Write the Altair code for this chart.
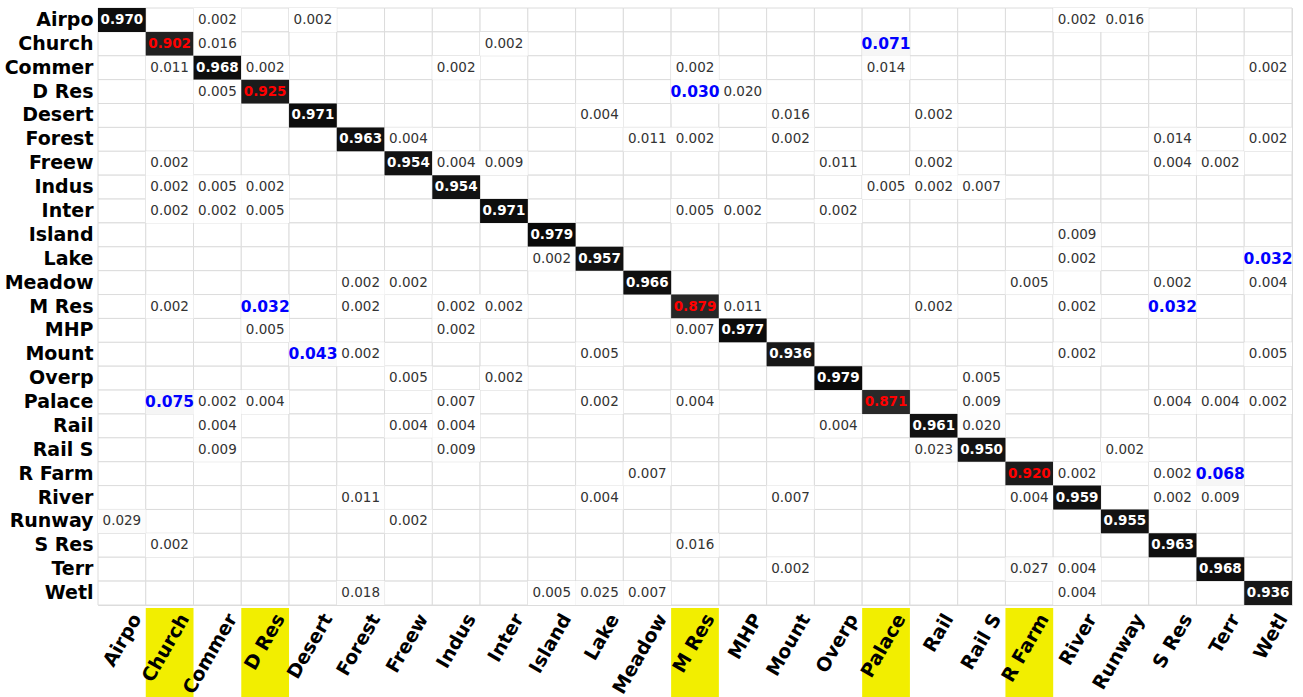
import altair as alt
import pandas as pd

categories = ["Airpo", "Church", "Commer", "D Res", "Desert", "Forest", "Freew",
              "Indus", "Inter", "Island", "Lake", "Meadow", "M Res", "MHP",
              "Mount", "Overp", "Palace", "Rail", "Rail S", "R Farm", "River",
              "Runway", "S Res", "Terr", "Wetl"]

highlighted = ["Church", "D Res", "M Res", "Palace", "R Farm"]

# confusion matrix rows (true class -> predicted class: share), zeros omitted
row_airpo = {"Airpo": 0.970, "Commer": 0.002, "Desert": 0.002, "River": 0.002, "Runway": 0.016}
row_church = {"Church": 0.902, "Commer": 0.016, "Inter": 0.002, "Palace": 0.071}
row_commer = {"Church": 0.011, "Commer": 0.968, "D Res": 0.002, "Indus": 0.002,
              "M Res": 0.002, "Palace": 0.014, "Wetl": 0.002}
row_dres = {"Commer": 0.005, "D Res": 0.925, "M Res": 0.030, "MHP": 0.020}
row_desert = {"Desert": 0.971, "Lake": 0.004, "Mount": 0.016, "Rail": 0.002}
row_forest = {"Forest": 0.963, "Freew": 0.004, "Meadow": 0.011, "M Res": 0.002,
              "Mount": 0.002, "S Res": 0.014, "Wetl": 0.002}
row_freew = {"Church": 0.002, "Freew": 0.954, "Indus": 0.004, "Inter": 0.009,
             "Overp": 0.011, "Rail": 0.002, "S Res": 0.004, "Terr": 0.002}
row_indus = {"Church": 0.002, "Commer": 0.005, "D Res": 0.002, "Indus": 0.954,
             "Palace": 0.005, "Rail": 0.002, "Rail S": 0.007}
row_inter = {"Church": 0.002, "Commer": 0.002, "D Res": 0.005, "Inter": 0.971,
             "M Res": 0.005, "MHP": 0.002, "Overp": 0.002}
row_island = {"Island": 0.979, "River": 0.009}
row_lake = {"Island": 0.002, "Lake": 0.957, "River": 0.002, "Wetl": 0.032}
row_meadow = {"Forest": 0.002, "Freew": 0.002, "Meadow": 0.966, "R Farm": 0.005,
              "S Res": 0.002, "Wetl": 0.004}
row_mres = {"Church": 0.002, "D Res": 0.032, "Forest": 0.002, "Indus": 0.002,
            "Inter": 0.002, "M Res": 0.879, "MHP": 0.011, "Rail": 0.002,
            "River": 0.002, "S Res": 0.032}
row_mhp = {"D Res": 0.005, "Indus": 0.002, "M Res": 0.007, "MHP": 0.977}
row_mount = {"Desert": 0.043, "Forest": 0.002, "Lake": 0.005, "Mount": 0.936,
             "River": 0.002, "Wetl": 0.005}
row_overp = {"Freew": 0.005, "Inter": 0.002, "Overp": 0.979, "Rail S": 0.005}
row_palace = {"Church": 0.075, "Commer": 0.002, "D Res": 0.004, "Indus": 0.007,
              "Lake": 0.002, "M Res": 0.004, "Palace": 0.871, "Rail S": 0.009,
              "S Res": 0.004, "Terr": 0.004, "Wetl": 0.002}
row_rail = {"Commer": 0.004, "Freew": 0.004, "Indus": 0.004, "Overp": 0.004,
            "Rail": 0.961, "Rail S": 0.020}
row_rails = {"Commer": 0.009, "Indus": 0.009, "Rail": 0.023, "Rail S": 0.950, "Runway": 0.002}
row_rfarm = {"Meadow": 0.007, "R Farm": 0.920, "River": 0.002, "S Res": 0.002, "Terr": 0.068}
row_river = {"Forest": 0.011, "Lake": 0.004, "Mount": 0.007, "R Farm": 0.004,
             "River": 0.959, "S Res": 0.002, "Terr": 0.009}
row_runway = {"Airpo": 0.029, "Freew": 0.002, "Runway": 0.955}
row_sres = {"Church": 0.002, "M Res": 0.016, "S Res": 0.963}
row_terr = {"Mount": 0.002, "R Farm": 0.027, "River": 0.004, "Terr": 0.968}
row_wetl = {"Forest": 0.018, "Island": 0.005, "Lake": 0.025, "Meadow": 0.007,
            "River": 0.004, "Wetl": 0.936}

rows = [row_airpo, row_church, row_commer, row_dres, row_desert, row_forest,
        row_freew, row_indus, row_inter, row_island, row_lake, row_meadow,
        row_mres, row_mhp, row_mount, row_overp, row_palace, row_rail,
        row_rails, row_rfarm, row_river, row_runway, row_sres, row_terr, row_wetl]

records = []
for true_cat, row in zip(categories, rows):
    for pred_cat, v in row.items():
        diag = true_cat == pred_cat
        if diag:
            kind = "diag_ok" if v >= 0.93 else "diag_low"
        else:
            kind = "off_high" if v >= 0.03 else "off"
        records.append({"true": true_cat, "pred": pred_cat, "value": v,
                        "label": f"{v:.3f}", "kind": kind})
cells = pd.DataFrame(records)
grid = pd.DataFrame([{"true": t, "pred": p} for t in categories for p in categories])
hl = pd.DataFrame({"pred": highlighted})

FONT = "DejaVu Sans"
xs = alt.Scale(domain=categories, paddingInner=0, paddingOuter=0)
ys = alt.Scale(domain=categories, paddingInner=0, paddingOuter=0)

x_axis = alt.Axis(title=None, labelAngle=300, labelAlign="right", labelBaseline="middle",
                  labelFont=FONT, labelFontWeight="bold", labelFontSize=19,
                  labelColor="black", ticks=False, domain=False, grid=False,
                  labelPadding=10, labelOffset=15, zindex=1, labelOverlap=False)
y_axis = alt.Axis(title=None, labelFont=FONT, labelFontWeight="bold", labelFontSize=19,
                  labelColor="black", ticks=False, domain=False, grid=False,
                  labelPadding=5, labelOverlap=False)

X = alt.X("pred:N", scale=xs, axis=x_axis, sort=categories)
Y = alt.Y("true:N", scale=ys, axis=y_axis, sort=categories)

base_grid = alt.Chart(grid).mark_rect(fill="white", stroke="#dcdcdc", strokeWidth=1).encode(
    x=X, y=Y,
)

filled = alt.Chart(cells).mark_rect(strokeWidth=0).encode(
    x=X, y=Y,
    fill=alt.Fill("value:Q",
                  scale=alt.Scale(type="pow", exponent=1.3, domain=[0, 1],
                                  range=["#ffffff", "#000000"]),
                  legend=None),
)

yellow = alt.Chart(hl).mark_rect(fill="#f2ee00", clip=False).encode(
    x=X,
    y=alt.value(600),
    y2=alt.value(700),
)

def text_layer(kind, color, size, weight):
    return alt.Chart(cells).transform_filter(alt.datum.kind == kind).mark_text(
        font=FONT, fontSize=size, fontWeight=weight, color=color,
        align="center", baseline="middle"
    ).encode(
        x=X, y=Y,
        text="label:N",
    )

chart = alt.layer(
    yellow,
    base_grid,
    filled,
    text_layer("off", "#333333", 13.5, "normal"),
    text_layer("off_high", "#0000ff", 15.5, "bold"),
    text_layer("diag_ok", "#ffffff", 13.5, "bold"),
    text_layer("diag_low", "#ff0000", 13.5, "bold"),
).properties(
    width=1194, height=597,
    autosize=alt.AutoSizeParams(type="none"),
    padding={"left": 98, "top": 8, "right": 11, "bottom": 92},
).configure_view(stroke="#999999", strokeWidth=1.5).configure(background="white")

chart.save("out.html", embed_options={"renderer": "svg", "actions": False})
